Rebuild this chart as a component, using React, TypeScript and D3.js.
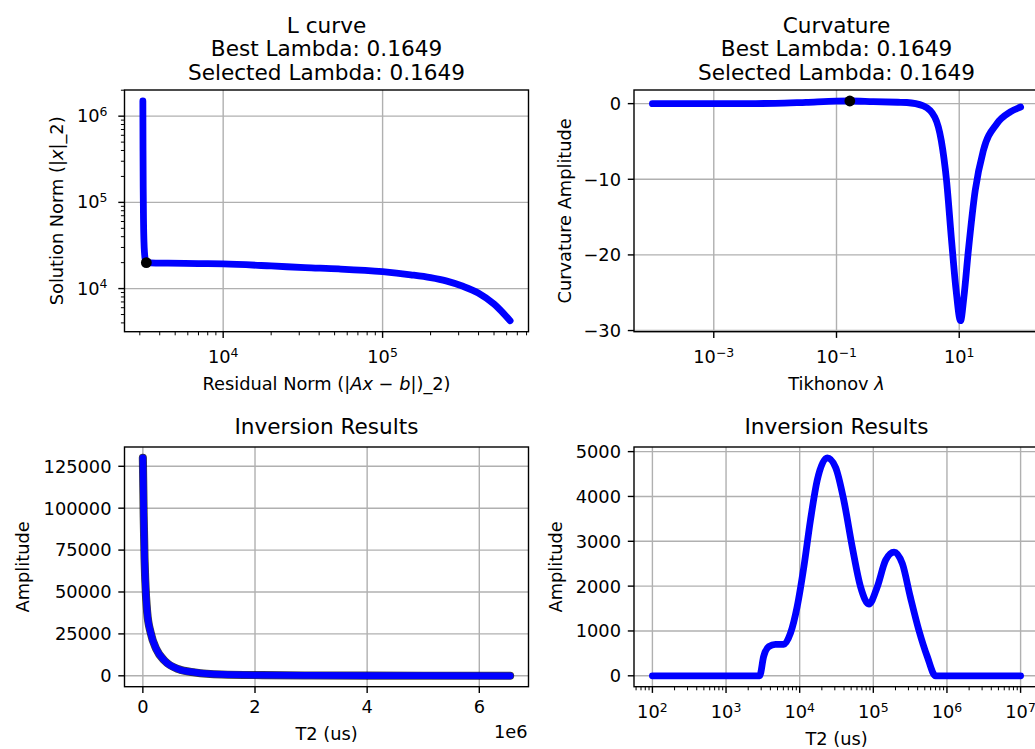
import React from "react";
import * as d3 from "d3";

// ---------------- data ----------------
const lcResidual = [3135, 3138, 3142, 3150, 3165, 3185, 3215, 3255, 3296, 3500, 4500, 7000, 10000, 20000, 32600, 53000, 100000, 150000, 200000, 250000, 316000, 398000, 501000, 631000];
const lcSolution = [1.5e6, 8e5, 4e5, 1.5e5, 6e4, 3.5e4, 2.5e4, 2.12e4, 2.01e4, 1.99e4, 1.97e4, 1.95e4, 1.93e4, 1.83e4, 1.75e4, 1.69e4, 1.57e4, 1.445e4, 1.34e4, 1.23e4, 1.07e4, 8900, 6600, 4240];
const lcBest = [3296, 20000];

const curvLambda = [1e-4, 1e-3, 1e-2, 0.032, 0.1, 0.165, 0.4, 1.0, 1.4, 2.6, 4.0, 5.1, 6.2, 7.5, 8.9, 10.5, 11.9, 14.1, 18.2, 24.7, 41, 68, 100];
const curvValue = [0, 0, 0.03, 0.17, 0.33, 0.35, 0.26, 0.18, 0.15, -0.3, -1.8, -4.9, -10.1, -18.1, -24.7, -28.7, -25.6, -19.4, -11.5, -6.2, -2.65, -1.1, -0.45];
const curvBest = [0.1649, 0.35];

const linT2 = [100, 15000, 30000, 42000, 78000, 139000, 240000, 390000, 630000, 930000, 1410000, 2130000, 3000000, 4000000, 5000000, 6550000];
const linAmp = [130000, 95000, 70000, 57500, 37700, 25800, 15900, 8900, 4000, 2000, 800, 400, 200, 100, 50, 0];

const logT2 = [100, 1000, 2860, 3240, 3800, 4690, 6080, 7500, 9240, 11400, 14000, 17300, 23700, 30700, 39800, 51800, 67200, 87200, 113000, 147000, 191000, 248000, 318000, 415000, 540000, 700000, 2000000, 1e7];
const logAmp = [0, 0, 0, 430, 650, 700, 700, 950, 1540, 2430, 3470, 4360, 4860, 4650, 3910, 2870, 1980, 1600, 1980, 2580, 2760, 2500, 1760, 1020, 430, 0, 0, 0];

const curvYTicks = [0, -10, -20, -30];
const curvXExps = [-3, -1, 1];
const lcXExps = [4, 5];
const lcYExps = [4, 5, 6];
const linXTicks = [0, 2e6, 4e6, 6e6];
const linXLabels = ["0", "2", "4", "6"];
const linYTicks = [0, 25000, 50000, 75000, 100000, 125000];
const logYTicks = [0, 1000, 2000, 3000, 4000, 5000];
const logXExps = [2, 3, 4, 5, 6, 7];

// ---------------- style ----------------
const W = 1035, H = 749;
const FONT = "DejaVu Sans";
const TFS = 17.8;
const TITLE_FS = 21.6;
const LW = 6.8;
const GRID = "#b0b0b0";
const BLUE = "#0000ff";
const SPINE = 1.4;
const MAJ = 6.2, MIN = 3.6;

type Rect = { l: number; r: number; t: number; b: number };
const P1: Rect = { l: 124.5, r: 528.5, t: 90, b: 331.7 };
const P2: Rect = { l: 634, r: 1039, t: 90, b: 331.7 };
const P3: Rect = { l: 124.5, r: 528.5, t: 447, b: 686.7 };
const P4: Rect = { l: 634, r: 1039, t: 447, b: 686.7 };

function padLog(vals: number[]): [number, number] {
  const lo = Math.log10(d3.min(vals)!), hi = Math.log10(d3.max(vals)!);
  const m = (hi - lo) * 0.05;
  return [Math.pow(10, lo - m), Math.pow(10, hi + m)];
}
function padLin(vals: number[]): [number, number] {
  const lo = d3.min(vals)!, hi = d3.max(vals)!;
  const m = (hi - lo) * 0.05;
  return [lo - m, hi + m];
}
const expStr = (e: number) => (e < 0 ? "\u2212" + Math.abs(e) : String(e));
const numStr = (v: number) => (v < 0 ? "\u2212" + Math.abs(v) : String(v));

function Pow({ x, y, e, anchor }: { x: number; y: number; e: number; anchor: string }) {
  return (
    <text x={x} y={y} textAnchor={anchor} fontSize={TFS} fontFamily={FONT} fill="#000">
      10<tspan dy={-6.6} fontSize={TFS * 0.7}>{expStr(e)}</tspan>
    </text>
  );
}

function Title({ p, lines, base }: { p: Rect; lines: string[]; base: number }) {
  const cx = (p.l + p.r) / 2;
  const n = lines.length;
  return (
    <g>
      {lines.map((s, i) => (
        <text key={i} x={cx} y={base - (n - 1 - i) * 23.5} textAnchor="middle" fontSize={TITLE_FS} fontFamily={FONT} fill="#000">{s}</text>
      ))}
    </g>
  );
}

function VGrid({ p, xs }: { p: Rect; xs: number[] }) {
  return <g>{xs.map((x, i) => <line key={i} x1={x} x2={x} y1={p.t} y2={p.b} stroke={GRID} strokeWidth={1.4} />)}</g>;
}
function HGrid({ p, ys }: { p: Rect; ys: number[] }) {
  return <g>{ys.map((y, i) => <line key={i} y1={y} y2={y} x1={p.l} x2={p.r} stroke={GRID} strokeWidth={1.4} />)}</g>;
}
function XTicks({ p, xs, len, w }: { p: Rect; xs: number[]; len: number; w: number }) {
  return <g>{xs.map((x, i) => <line key={i} x1={x} x2={x} y1={p.b} y2={p.b + len} stroke="#000" strokeWidth={w} />)}</g>;
}
function YTicks({ p, ys, len, w }: { p: Rect; ys: number[]; len: number; w: number }) {
  return <g>{ys.map((y, i) => <line key={i} y1={y} y2={y} x1={p.l} x2={p.l - len} stroke="#000" strokeWidth={w} />)}</g>;
}
function Frame({ p }: { p: Rect }) {
  return <rect x={p.l} y={p.t} width={p.r - p.l} height={p.b - p.t} fill="none" stroke="#000" strokeWidth={SPINE} />;
}
function YLabel({ x, p, children }: { x: number; p: Rect; children: React.ReactNode }) {
  const cy = (p.t + p.b) / 2;
  return (
    <text transform={`translate(${x},${cy}) rotate(-90)`} textAnchor="middle" fontSize={TFS} fontFamily={FONT} fill="#000">{children}</text>
  );
}
function XLabel({ y, p, children }: { y: number; p: Rect; children: React.ReactNode }) {
  return <text x={(p.l + p.r) / 2} y={y} textAnchor="middle" fontSize={TFS} fontFamily={FONT} fill="#000">{children}</text>;
}

function minorLog(scale: d3.ScaleLogarithmic<number, number>) {
  const [a, b] = scale.domain();
  return scale.ticks().filter((v) => {
    const l = Math.log10(v);
    return Math.abs(l - Math.round(l)) > 1e-9 && v >= a && v <= b;
  });
}

export default function App() {
  // Panel 1: L curve
  const x1 = d3.scaleLog().domain(padLog(lcResidual)).range([P1.l, P1.r]);
  const y1 = d3.scaleLog().domain(padLog(lcSolution)).range([P1.b, P1.t]);
  const lc = lcResidual.map((r, i) => [r, lcSolution[i]] as [number, number]);
  const line1 = d3.line<[number, number]>().x((d) => x1(d[0])).y((d) => y1(d[1])).curve(d3.curveMonotoneX);

  // Panel 2: curvature
  const x2 = d3.scaleLog().domain(padLog(curvLambda)).range([P2.l, P2.r]);
  const y2 = d3.scaleLinear().domain(padLin(curvValue)).range([P2.b, P2.t]);
  const cv = curvLambda.map((l, i) => [l, curvValue[i]] as [number, number]);
  const line2 = d3.line<[number, number]>().x((d) => x2(d[0])).y((d) => y2(d[1])).curve(d3.curveMonotoneX);

  // Panel 3: linear inversion
  const x3 = d3.scaleLinear().domain(padLin(linT2)).range([P3.l, P3.r]);
  const y3 = d3.scaleLinear().domain(padLin(linAmp)).range([P3.b, P3.t]);
  const lv = linT2.map((t, i) => [t, linAmp[i]] as [number, number]);
  const line3 = d3.line<[number, number]>().x((d) => x3(d[0])).y((d) => y3(d[1])).curve(d3.curveMonotoneX);

  // Panel 4: log inversion
  const x4 = d3.scaleLog().domain(padLog(logT2)).range([P4.l, P4.r]);
  const y4 = d3.scaleLinear().domain(padLin(logAmp)).range([P4.b, P4.t]);
  const gv = logT2.map((t, i) => [t, logAmp[i]] as [number, number]);
  const line4 = d3.line<[number, number]>().x((d) => x4(d[0])).y((d) => y4(d[1])).curve(d3.curveMonotoneX);

  const clip = (id: string, p: Rect) => (
    <clipPath id={id}><rect x={p.l} y={p.t} width={p.r - p.l} height={p.b - p.t} /></clipPath>
  );

  const p1xMaj = lcXExps.map((e) => x1(Math.pow(10, e)));
  const p1yMaj = lcYExps.map((e) => y1(Math.pow(10, e)));
  const p2xMaj = curvXExps.map((e) => x2(Math.pow(10, e)));
  const p2yMaj = curvYTicks.map((v) => y2(v));
  const p3xMaj = linXTicks.map((v) => x3(v));
  const p3yMaj = linYTicks.map((v) => y3(v));
  const p4xMaj = logXExps.map((e) => x4(Math.pow(10, e)));
  const p4yMaj = logYTicks.map((v) => y4(v));

  return (
    <svg width={W} height={H} viewBox={`0 0 ${W} ${H}`} style={{ position: "absolute", left: 0, top: 0, background: "#fff" }}>
      <defs>
        {clip("c1", P1)}
        {clip("c2", P2)}
        {clip("c3", P3)}
        {clip("c4", P4)}
      </defs>
      <rect x={0} y={0} width={W} height={H} fill="#fff" />

      {/* ---------- Panel 1 ---------- */}
      <Title p={P1} lines={["L curve", "Best Lambda: 0.1649", "Selected Lambda: 0.1649"]} base={79.5} />
      <VGrid p={P1} xs={p1xMaj} />
      <HGrid p={P1} ys={p1yMaj} />
      <g clipPath="url(#c1)">
        <path d={line1(lc)!} fill="none" stroke={BLUE} strokeWidth={LW} strokeLinecap="round" strokeLinejoin="round" />
        <circle cx={x1(lcBest[0])} cy={y1(lcBest[1])} r={5.4} fill="#000" />
      </g>
      <Frame p={P1} />
      <XTicks p={P1} xs={p1xMaj} len={MAJ} w={1.4} />
      <XTicks p={P1} xs={minorLog(x1).map((v) => x1(v))} len={MIN} w={1.0} />
      <YTicks p={P1} ys={p1yMaj} len={MAJ} w={1.4} />
      <YTicks p={P1} ys={minorLog(y1).map((v) => y1(v))} len={MIN} w={1.0} />
      {lcXExps.map((e, i) => <Pow key={i} x={p1xMaj[i]} y={P1.b + 31.6} e={e} anchor="middle" />)}
      {lcYExps.map((e, i) => <Pow key={i} x={P1.l - 17} y={p1yMaj[i] + 6} e={e} anchor="end" />)}
      <XLabel p={P1} y={P1.b + 58.3}>
        Residual Norm (|<tspan fontStyle="italic">Ax</tspan> {"\u2212"} <tspan fontStyle="italic">b</tspan>|)_2)
      </XLabel>
      <YLabel p={P1} x={62.5}>
        Solution Norm (|<tspan fontStyle="italic">x</tspan>|_2)
      </YLabel>

      {/* ---------- Panel 2 ---------- */}
      <Title p={P2} lines={["Curvature", "Best Lambda: 0.1649", "Selected Lambda: 0.1649"]} base={79.5} />
      <VGrid p={P2} xs={p2xMaj} />
      <HGrid p={P2} ys={p2yMaj} />
      <g clipPath="url(#c2)">
        <path d={line2(cv)!} fill="none" stroke={BLUE} strokeWidth={LW} strokeLinecap="round" strokeLinejoin="round" />
        <circle cx={x2(curvBest[0])} cy={y2(curvBest[1])} r={5.4} fill="#000" />
      </g>
      <Frame p={P2} />
      <XTicks p={P2} xs={p2xMaj} len={MAJ} w={1.4} />
      <YTicks p={P2} ys={p2yMaj} len={MAJ} w={1.4} />
      {curvXExps.map((e, i) => <Pow key={i} x={p2xMaj[i]} y={P2.b + 31.6} e={e} anchor="middle" />)}
      {curvYTicks.map((v, i) => (
        <text key={i} x={P2.l - 13} y={p2yMaj[i] + 6.4} textAnchor="end" fontSize={TFS} fontFamily={FONT} fill="#000">{numStr(v)}</text>
      ))}
      <XLabel p={P2} y={P2.b + 58.3}>
        Tikhonov <tspan fontStyle="italic">λ</tspan>
      </XLabel>
      <YLabel p={P2} x={570.5}>Curvature Amplitude</YLabel>

      {/* ---------- Panel 3 ---------- */}
      <Title p={P3} lines={["Inversion Results"]} base={434.3} />
      <VGrid p={P3} xs={p3xMaj} />
      <HGrid p={P3} ys={p3yMaj} />
      <g clipPath="url(#c3)">
        <path d={line3(lv)!} fill="none" stroke="#000" strokeOpacity={0.75} strokeWidth={LW + 1.3} strokeLinecap="round" strokeLinejoin="round" />
        <path d={line3(lv)!} fill="none" stroke={BLUE} strokeWidth={LW} strokeLinecap="round" strokeLinejoin="round" />
      </g>
      <Frame p={P3} />
      <XTicks p={P3} xs={p3xMaj} len={MAJ} w={1.4} />
      <YTicks p={P3} ys={p3yMaj} len={MAJ} w={1.4} />
      {linXLabels.map((s, i) => (
        <text key={i} x={p3xMaj[i]} y={P3.b + 26.6} textAnchor="middle" fontSize={TFS} fontFamily={FONT} fill="#000">{s}</text>
      ))}
      {linYTicks.map((v, i) => (
        <text key={i} x={P3.l - 13} y={p3yMaj[i] + 6.4} textAnchor="end" fontSize={TFS} fontFamily={FONT} fill="#000">{String(v)}</text>
      ))}
      <text x={P3.r - 1} y={738.3} textAnchor="end" fontSize={TFS} fontFamily={FONT} fill="#000">1e6</text>
      <XLabel p={P3} y={P3.b + 53.3}>T2 (us)</XLabel>
      <YLabel p={P3} x={28.7}>Amplitude</YLabel>

      {/* ---------- Panel 4 ---------- */}
      <Title p={P4} lines={["Inversion Results"]} base={434.3} />
      <VGrid p={P4} xs={p4xMaj} />
      <HGrid p={P4} ys={p4yMaj} />
      <g clipPath="url(#c4)">
        <path d={line4(gv)!} fill="none" stroke={BLUE} strokeWidth={LW} strokeLinecap="round" strokeLinejoin="round" />
      </g>
      <Frame p={P4} />
      <XTicks p={P4} xs={p4xMaj} len={MAJ} w={1.4} />
      <XTicks p={P4} xs={minorLog(x4).map((v) => x4(v))} len={MIN} w={1.0} />
      <YTicks p={P4} ys={p4yMaj} len={MAJ} w={1.4} />
      {logXExps.map((e, i) => <Pow key={i} x={p4xMaj[i]} y={P4.b + 31.6} e={e} anchor="middle" />)}
      {logYTicks.map((v, i) => (
        <text key={i} x={P4.l - 13} y={p4yMaj[i] + 6.4} textAnchor="end" fontSize={TFS} fontFamily={FONT} fill="#000">{String(v)}</text>
      ))}
      <XLabel p={P4} y={P4.b + 58.3}>T2 (us)</XLabel>
      <YLabel p={P4} x={561.7}>Amplitude</YLabel>
    </svg>
  );
}
